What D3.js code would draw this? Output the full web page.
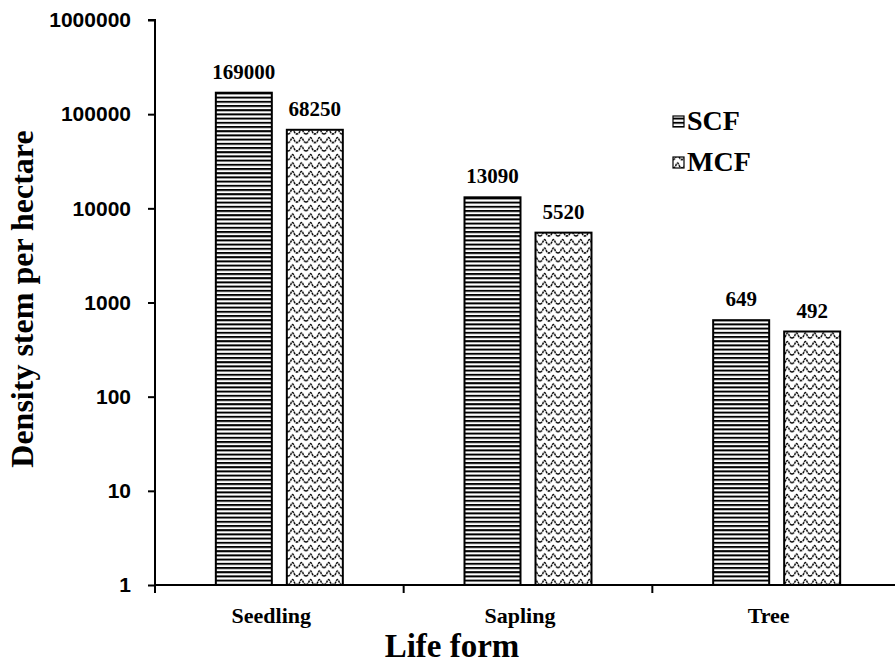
<!DOCTYPE html>
<html>
<head>
<meta charset="utf-8">
<script src="https://cdn.jsdelivr.net/npm/d3@7/dist/d3.min.js"></script>
<style>
  html, body { margin: 0; padding: 0; background: #fff; }
  svg { display: block; }
</style>
</head>
<body>
<div id="chart"></div>
<script>
// Stem density by life form in two forest types
const categories = ["Seedling", "Sapling", "Tree"];
const seriesNames = ["SCF", "MCF"];
const scfValues = [169000, 13090, 649];
const mcfValues = [68250, 5520, 492];
const yTicks = [1, 10, 100, 1000, 10000, 100000, 1000000];

const width = 895, height = 672;
const margin = { left: 155, right: -6, top: 20, bottom: 87 };

const svg = d3.select("#chart").append("svg")
  .attr("width", width).attr("height", height);

const defs = svg.append("defs");

// Horizontal stripe fill
const stripes = defs.append("pattern")
  .attr("id", "pat-scf").attr("patternUnits", "userSpaceOnUse")
  .attr("width", 8).attr("height", 4.2);
stripes.append("rect").attr("width", 8).attr("height", 4.2).attr("fill", "#fff");
stripes.append("rect").attr("y", 0).attr("width", 8).attr("height", 2).attr("fill", "#000");

// Wavy line fill
const waves = defs.append("pattern")
  .attr("id", "pat-mcf").attr("patternUnits", "userSpaceOnUse")
  .attr("width", 18).attr("height", 8.5);
waves.append("rect").attr("width", 18).attr("height", 8.5).attr("fill", "#fff");
waves.append("path")
  .attr("d", "M0,6.5 C3,6.5 3,1.5 4.5,1.5 C6,1.5 6,6.5 9,6.5 C12,6.5 12,1.5 13.5,1.5 C15,1.5 15,6.5 18,6.5")
  .attr("fill", "none").attr("stroke", "#000").attr("stroke-width", 1.5)
  .attr("stroke-dasharray", "2.5,0.7");

const x0 = d3.scaleBand().domain(categories)
  .range([margin.left, width - margin.right]).paddingInner(0).paddingOuter(0);
const barW = 56, gap = 15;
const x1 = d3.scaleOrdinal().domain(seriesNames)
  .range([x0.bandwidth() / 2 - gap / 2 - barW, x0.bandwidth() / 2 + gap / 2]);

const y = d3.scaleLog().domain([1, 1000000]).range([height - margin.bottom, margin.top]);

const series = [
  { name: "SCF", values: scfValues, fill: "url(#pat-scf)" },
  { name: "MCF", values: mcfValues, fill: "url(#pat-mcf)" }
];

// Bars
series.forEach(s => {
  const g = svg.append("g");
  g.selectAll("rect").data(categories).join("rect")
    .attr("x", (c) => x0(c) + x1(s.name))
    .attr("y", (c, i) => y(s.values[i]))
    .attr("width", barW)
    .attr("height", (c, i) => y(1) - y(s.values[i]))
    .attr("fill", s.fill)
    .attr("stroke", "#000").attr("stroke-width", 2);
  g.selectAll("text").data(categories).join("text")
    .attr("x", (c) => x0(c) + x1(s.name) + barW / 2)
    .attr("y", (c, i) => y(s.values[i]) - 14)
    .attr("text-anchor", "middle")
    .attr("font-family", "'Liberation Serif', 'Times New Roman', serif")
    .attr("font-weight", "bold").attr("font-size", 21)
    .text((c, i) => s.values[i]);
});

// Y axis
const yAxis = d3.axisLeft(y).tickValues(yTicks).tickFormat(d3.format("d")).tickSize(7).tickPadding(17);
const yg = svg.append("g").attr("transform", `translate(${margin.left},0)`).call(yAxis);
yg.select(".domain").attr("stroke-width", 2).attr("d", `M-7,${y(1000000)}H0V${y(1)}`);
yg.selectAll(".tick line").attr("stroke-width", 2);
yg.selectAll(".tick text")
  .attr("font-family", "'Liberation Sans', Arial, sans-serif")
  .attr("font-weight", "bold").attr("font-size", 21).attr("fill", "#000");

// X axis
const xAxis = d3.axisBottom(x0).tickSize(0).tickPadding(22);
const xg = svg.append("g").attr("transform", `translate(0,${y(1)})`).call(xAxis);
xg.select(".domain").attr("stroke-width", 2).attr("d", `M${margin.left},0H${width}`);
xg.selectAll(".tick text")
  .attr("dx", -8)
  .attr("font-family", "'Liberation Serif', 'Times New Roman', serif")
  .attr("font-weight", "bold").attr("font-size", 22).attr("fill", "#000");
// Band boundary ticks
const bounds = categories.map(c => x0(c));
xg.selectAll("line.bound").data(bounds).join("line")
  .attr("class", "bound")
  .attr("x1", d => d).attr("x2", d => d)
  .attr("y1", 0).attr("y2", 8)
  .attr("stroke", "#000").attr("stroke-width", 2);

// Axis titles
svg.append("text")
  .attr("transform", "translate(33,299) rotate(-90)")
  .attr("text-anchor", "middle")
  .attr("font-family", "'Liberation Serif', 'Times New Roman', serif")
  .attr("font-weight", "bold").attr("font-size", 32)
  .text("Density stem per hectare");

svg.append("text")
  .attr("x", 452).attr("y", 657)
  .attr("text-anchor", "middle")
  .attr("font-family", "'Liberation Serif', 'Times New Roman', serif")
  .attr("font-weight", "bold").attr("font-size", 33)
  .text("Life form");

// Legend
const legend = svg.append("g").attr("transform", "translate(673,0)");
series.forEach((s, i) => {
  const cy = 121 + i * 41;
  legend.append("rect")
    .attr("x", 0).attr("y", cy - 5).attr("width", 11).attr("height", 11)
    .attr("fill", s.fill).attr("stroke", "#000").attr("stroke-width", 1.2);
  legend.append("text")
    .attr("x", 14).attr("y", cy + 9)
    .attr("font-family", "'Liberation Serif', 'Times New Roman', serif")
    .attr("font-weight", "bold").attr("font-size", 28)
    .text(s.name);
});
</script>
</body>
</html>
